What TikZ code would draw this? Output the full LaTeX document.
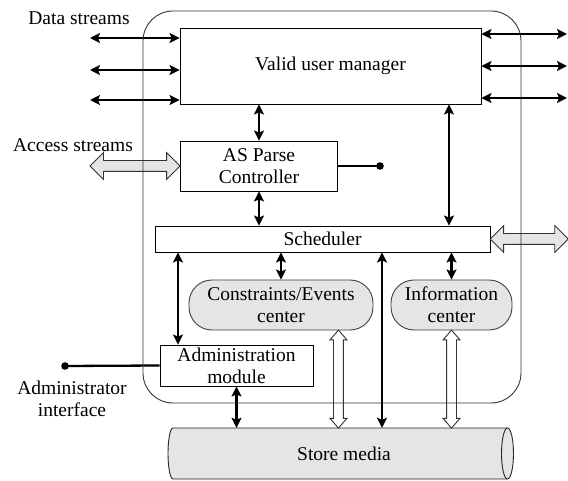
\documentclass[tikz,border=0pt]{standalone}
\usepackage{fontspec}
\setmainfont{Liberation Serif}
\usetikzlibrary{arrows.meta,shapes.arrows,calc}
\begin{document}
\begin{tikzpicture}[x=1pt,y=-1pt,font=\fontsize{19.5}{22}\selectfont]
\tikzset{
  box/.style={draw, inner sep=0pt, align=center, line width=0.9pt},
  pill/.style={draw=black!75, fill=gray!20, rounded corners=23pt, inner sep=0pt, align=center, line width=0.9pt},
  darr/.style={{Stealth[length=10pt,width=10pt,inset=2pt]}-{Stealth[length=10pt,width=10pt,inset=2pt]}, line width=2.3pt},
  plainline/.style={line width=2.3pt},
  fatarr/.style={double arrow, draw=black!80, fill=gray!20, inner sep=5pt, double arrow head extend=8pt, minimum height=#1, line width=0.8pt},
  hollowarr/.style={double arrow, draw=black!80, fill=white, inner xsep=4pt, inner ysep=4.5pt, double arrow head extend=3.5pt, double arrow tip angle=82, minimum height=#1, line width=0.9pt},
  lbl/.style={align=center, inner sep=0pt}
}
\useasboundingbox (0,0) rectangle (568,481);

% nodes
\node[box, minimum width=301pt, minimum height=76pt] (vum) at (330.5,66) {Valid user manager};
\node[box, minimum width=157pt, minimum height=50pt] (asp) at (259,166) {AS Parse\\Controller};
\node[box, minimum width=335pt, minimum height=26pt] (sch) at (322.5,239) {Scheduler};
\node[pill, minimum width=184pt, minimum height=50pt] (cec) at (281,305) {Constraints/Events\\center};
\node[pill, minimum width=121pt, minimum height=50pt] (ic) at (451.5,305) {Information\\center};
\node[box, minimum width=153pt, minimum height=41pt] (adm) at (236.5,365.5) {Administration\\module};

% store media cylinder
\filldraw[draw=black!85, fill=gray!20, line width=0.9pt]
  (173,428) -- (507.5,428) arc[x radius=6, y radius=25.5, start angle=-90, end angle=90]
  -- (173,479) arc[x radius=5, y radius=25.5, start angle=90, end angle=270] -- cycle;
\draw[black!85, line width=0.9pt] (507.5,428) arc[x radius=6, y radius=25.5, start angle=-90, end angle=-270];
\node[inner sep=0pt, minimum width=334pt, minimum height=51pt] (store) at (340,453.5) {};
\node[inner sep=0pt] (storetxt) at (344,453.5) {Store media};

% labels
\node[lbl] (ds) at (79,18) {Data streams};
\node[lbl] (as) at (73,145) {Access streams};
\node[lbl] (ai) at (72,399) {Administrator\\interface};

% free ends
\coordinate (dl1) at (90,38);
\coordinate (dl2) at (90,70);
\coordinate (dl3) at (90,100);
\coordinate (dr1) at (567,34);
\coordinate (dr2) at (567,66);
\coordinate (dr3) at (567,98);
\coordinate (dot1) at (380,166);
\coordinate (dot2) at (65,366);
\coordinate (asend) at (90,166);
\coordinate (schend) at (568,239);

% data streams
\draw[darr] (dl1) -- (dl1 -| vum.west);
\draw[darr] (dl2) -- (dl2 -| vum.west);
\draw[darr] (dl3) -- (dl3 -| vum.west);
\draw[darr] (dr1 -| vum.east) -- (dr1);
\draw[darr] (dr2 -| vum.east) -- (dr2);
\draw[darr] (dr3 -| vum.east) -- (dr3);

% vertical connectors
\draw[darr] (asp.north) -- (asp.north |- vum.south);
\draw[darr] (asp.south) -- (asp.south |- sch.north);
\coordinate (x449) at (449,239);
\draw[darr] (x449 |- sch.north) -- (x449 |- vum.south);
\coordinate (x178) at (178,300);
\draw[darr] (x178 |- sch.south) -- (x178 |- adm.north);
\draw[darr] (cec.north |- sch.south) -- (cec.north);
\draw[darr] (ic.north |- sch.south) -- (ic.north);
\coordinate (x382) at (382,300);
\draw[darr] (x382 |- sch.south) -- (x382 |- store.north);
\draw[darr] (adm.south) -- (adm.south |- store.north);

% dots
\draw[plainline] (asp.east) -- (dot1);
\fill (dot1) circle[radius=3.8pt];
\draw[plainline] (adm.west) -- (dot2);
\fill (dot2) circle[radius=3.8pt];

% fat arrows
\path (asend) -- (asp.west) node[midway, fatarr=90pt] (fa1) {};
\path (sch.east) -- (schend) node[midway, fatarr=78pt] (fa2) {};

% hollow arrows
\coordinate (h1) at ($(cec.south east)+(-35,0)$);
\path (h1) -- (h1 |- store.north) node[midway, sloped, hollowarr=98pt] (ha1) {};
\path (ic.south) -- (ic.south |- store.north) node[midway, sloped, hollowarr=98pt] (ha2) {};

% outer enclosure
\draw[black!80, line width=0.9pt, rounded corners=30pt] (143,11) rectangle (521,403);
\end{tikzpicture}
\end{document}
